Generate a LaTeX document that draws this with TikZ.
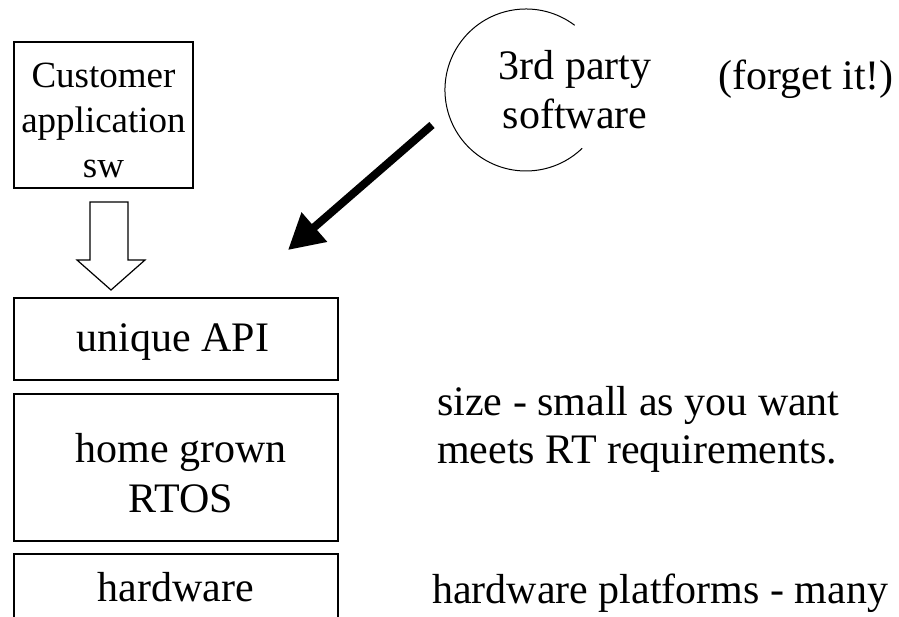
\documentclass[tikz,border=0pt]{standalone}
\usepackage{fontspec}
\setmainfont{Liberation Serif}
\usetikzlibrary{arrows.meta}
\begin{document}
\begin{tikzpicture}[x=1pt,y=-1pt,
  box/.style={draw, line width=1.3pt, inner sep=0pt},
  txt/.style={inner sep=0pt, align=center, font=\fontsize{42}{49}\selectfont},
  thin/.style={line width=1.2pt},
  ]
\useasboundingbox (0,0) rectangle (899,617);
% left stack
\node[box, minimum width=179pt, minimum height=146pt] (cust) at (103.5,115) {};
\node[txt, font=\fontsize{37}{45}\selectfont] (custt) at (103.5,120.5) {Customer\\application\\sw};
\node[box, minimum width=324pt, minimum height=82pt] (api) at (176,339) {};
\node[txt, anchor=base] (apit) at (173,352) {unique API};
\node[box, minimum width=324pt, minimum height=147pt] (rtos) at (176,467.5) {};
\node[txt, font=\fontsize{42}{50}\selectfont] (rtost) at (181,473.6) {home grown\\RTOS};
\draw[line width=1.3pt] (14,620) -- (14,554) -- (338,554) -- (338,620);
\node[txt, anchor=base] (hw) at (176,601) {hardware};
% hollow arrow
\draw[thin] (90,202) -- (128,202) -- (128,260) -- (145,260) -- (111,290) -- (77,260) -- (90,260) -- cycle;
% 3rd party
\coordinate (cc) at (526,90);
\draw[line width=1pt] (574.7,25.3) arc[start angle=-53, end angle=-314, radius=81];
\node[txt] (third) at (575,89.5) {3rd party\\software};
\node[txt, anchor=base] (forget) at (806,90) {(forget it!)};
\coordinate (a1) at (432,125);
\coordinate (a2) at (288,250);
\draw[line width=8pt, -{Triangle[length=35pt,width=37pt]}] (a1) -- (a2);
% right texts
\node[txt, anchor=west, align=left, font=\fontsize{42}{48}\selectfont] (size) at (437,429.4) {size - small as you want\\meets RT requirements.};
\node[txt, anchor=base west] (hwp) at (432,603) {hardware platforms - many};
\end{tikzpicture}
\end{document}
